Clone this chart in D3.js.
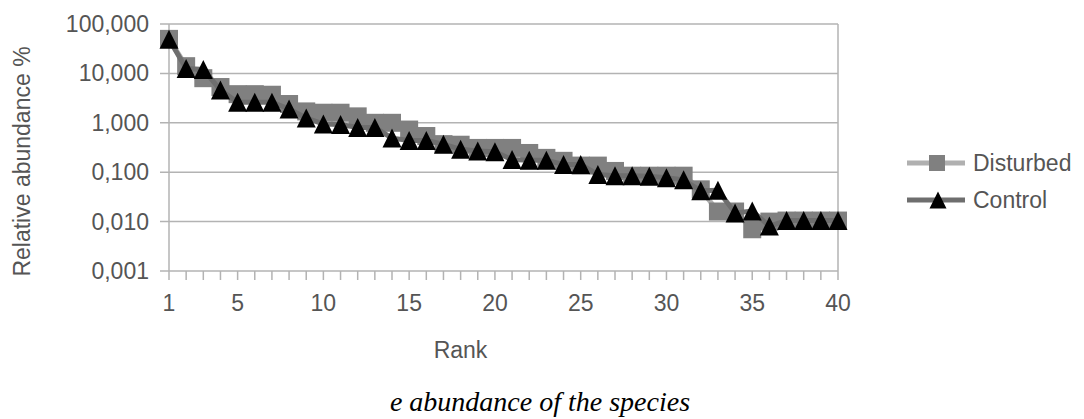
<!DOCTYPE html>
<html>
<head>
<meta charset="utf-8">
<script src="https://cdn.jsdelivr.net/npm/d3@7"></script>
<style>
  body { margin: 0; background: #fff; }
  text { font-family: "Liberation Sans", Arial, sans-serif; fill: #555; }
</style>
</head>
<body>
<div id="chart"></div>
<script>
// rank-abundance, log scale
const ranks = d3.range(1, 41);

const disturbed = [
    50, 14, 8, 5.3, 3.8, 3.8, 3.7, 2.4, 1.7, 1.6,
    1.6, 1.35, 1.0, 1.0, 0.73, 0.54, 0.37, 0.36, 0.31, 0.31,
    0.31, 0.245, 0.195, 0.17, 0.136, 0.136, 0.106, 0.085, 0.085, 0.085,
    0.085, 0.045, 0.016, 0.016, 0.007, 0.01, 0.0105, 0.0105, 0.0105, 0.0105
];

const control = [
    49, 12.5, 12, 4.6, 2.6, 2.6, 2.6, 1.9, 1.25, 0.95,
    0.92, 0.8, 0.8, 0.49, 0.44, 0.44, 0.37, 0.29, 0.27, 0.26,
    0.18, 0.175, 0.175, 0.143, 0.143, 0.09, 0.085, 0.085, 0.083, 0.077,
    0.07, 0.042, 0.043, 0.015, 0.0164, 0.0081, 0.0105, 0.0105, 0.0105, 0.0105
];

const yTicks = [100, 10, 1, 0.1, 0.01, 0.001];
const xLabels = [1, 5, 10, 15, 20, 25, 30, 35, 40];
const seriesNames = ["Disturbed", "Control"];

const width = 1084, height = 419;
const margin = { top: 24, right: 246, bottom: 148, left: 169 };
const fontSize = "23px";

const svg = d3.select("#chart")
    .append("svg")
    .attr("width", width)
    .attr("height", height);

const x = d3.scaleLinear()
    .domain([1, 40])
    .range([margin.left, width - margin.right]);

const y = d3.scaleLog()
    .domain([0.001, 100])
    .range([height - margin.bottom, margin.top]);

// labels like 100,000 / 10,000 / 0,001 (comma decimal)
const yLabel = v => d3.format(".3f")(v).replace(".", ",");

// gridlines
svg.append("g")
    .selectAll("line")
    .data(yTicks)
    .enter()
    .append("line")
    .attr("x1", margin.left - 9)
    .attr("x2", x(40))
    .attr("y1", d => y(d))
    .attr("y2", d => y(d))
    .attr("stroke", "#b3b3b3")
    .attr("stroke-width", 1.5);

// left axis + right border
svg.append("line")
    .attr("x1", x(1)).attr("x2", x(1))
    .attr("y1", y(100)).attr("y2", y(0.001))
    .attr("stroke", "#b3b3b3").attr("stroke-width", 1.5);
svg.append("line")
    .attr("x1", x(40)).attr("x2", x(40))
    .attr("y1", y(100)).attr("y2", y(0.001))
    .attr("stroke", "#b3b3b3").attr("stroke-width", 1.5);

// rank ticks
svg.append("g")
    .selectAll("line")
    .data(ranks)
    .enter()
    .append("line")
    .attr("x1", d => x(d)).attr("x2", d => x(d))
    .attr("y1", y(0.001)).attr("y2", y(0.001) + 9)
    .attr("stroke", "#b3b3b3")
    .attr("stroke-width", 1.5);

svg.append("g")
    .selectAll("text")
    .data(yTicks)
    .enter()
    .append("text")
    .attr("x", margin.left - 20)
    .attr("y", d => y(d))
    .attr("dy", "0.35em")
    .attr("text-anchor", "end")
    .style("font-size", fontSize)
    .text(d => yLabel(d));

svg.append("g")
    .selectAll("text")
    .data(xLabels)
    .enter()
    .append("text")
    .attr("x", d => x(d))
    .attr("y", y(0.001) + 32)
    .attr("dy", "0.35em")
    .attr("text-anchor", "middle")
    .style("font-size", fontSize)
    .text(d => d);

svg.append("text")
    .attr("x", (x(1) + x(40)) / 2 - 43)
    .attr("y", 350)
    .attr("dy", "0.35em")
    .attr("text-anchor", "middle")
    .style("font-size", fontSize)
    .text("Rank");

svg.append("text")
    .attr("transform", `translate(22,${(y(100) + y(0.001)) / 2 + 14}) rotate(-90)`)
    .attr("dy", "0.35em")
    .attr("text-anchor", "middle")
    .style("font-size", fontSize)
    .text("Relative abundance %");

// series
const line = d3.line()
    .x((d, i) => x(ranks[i]))
    .y(d => y(d));

const triPath = s => `M0,${-s / 2}L${s / 2},${s / 2}L${-s / 2},${s / 2}Z`;

svg.append("path")
    .datum(disturbed)
    .attr("d", line)
    .attr("fill", "none")
    .attr("stroke", "#b0b0b0")
    .attr("stroke-width", 5);

svg.append("g")
    .selectAll("rect")
    .data(disturbed)
    .enter()
    .append("rect")
    .attr("x", (d, i) => x(ranks[i]) - 9)
    .attr("y", d => y(d) - 9)
    .attr("width", 18)
    .attr("height", 18)
    .attr("fill", "#808080");

svg.append("path")
    .datum(control)
    .attr("d", line)
    .attr("fill", "none")
    .attr("stroke", "#6e6e6e")
    .attr("stroke-width", 5);

svg.append("g")
    .selectAll("path")
    .data(control)
    .enter()
    .append("path")
    .attr("transform", (d, i) => `translate(${x(ranks[i])},${y(d)})`)
    .attr("d", triPath(19))
    .attr("fill", "#000");

// legend
const legend = svg.append("g")
    .attr("transform", "translate(907,163)");

const item = legend.selectAll("g")
    .data(seriesNames)
    .enter()
    .append("g")
    .attr("transform", (d, i) => `translate(0,${i * 37})`);

item.append("line")
    .attr("x1", 0).attr("x2", 58)
    .attr("stroke", (d, i) => i ? "#6e6e6e" : "#b0b0b0")
    .attr("stroke-width", 5);

item.filter((d, i) => i === 0)
    .append("rect")
    .attr("x", 22).attr("y", -8)
    .attr("width", 16).attr("height", 16)
    .attr("fill", "#808080");

item.filter((d, i) => i === 1)
    .append("path")
    .attr("transform", "translate(31,0)")
    .attr("d", triPath(17))
    .attr("fill", "#000");

item.append("text")
    .attr("x", 66)
    .attr("dy", "0.35em")
    .style("font-size", fontSize)
    .text(d => d);

// caption
svg.append("text")
    .attr("x", 540)
    .attr("y", 411)
    .attr("text-anchor", "middle")
    .style("font-family", "'Liberation Serif', 'Times New Roman', serif")
    .style("font-style", "italic")
    .style("font-size", "28px")
    .style("fill", "#000")
    .text("e abundance of the species");
</script>
</body>
</html>
